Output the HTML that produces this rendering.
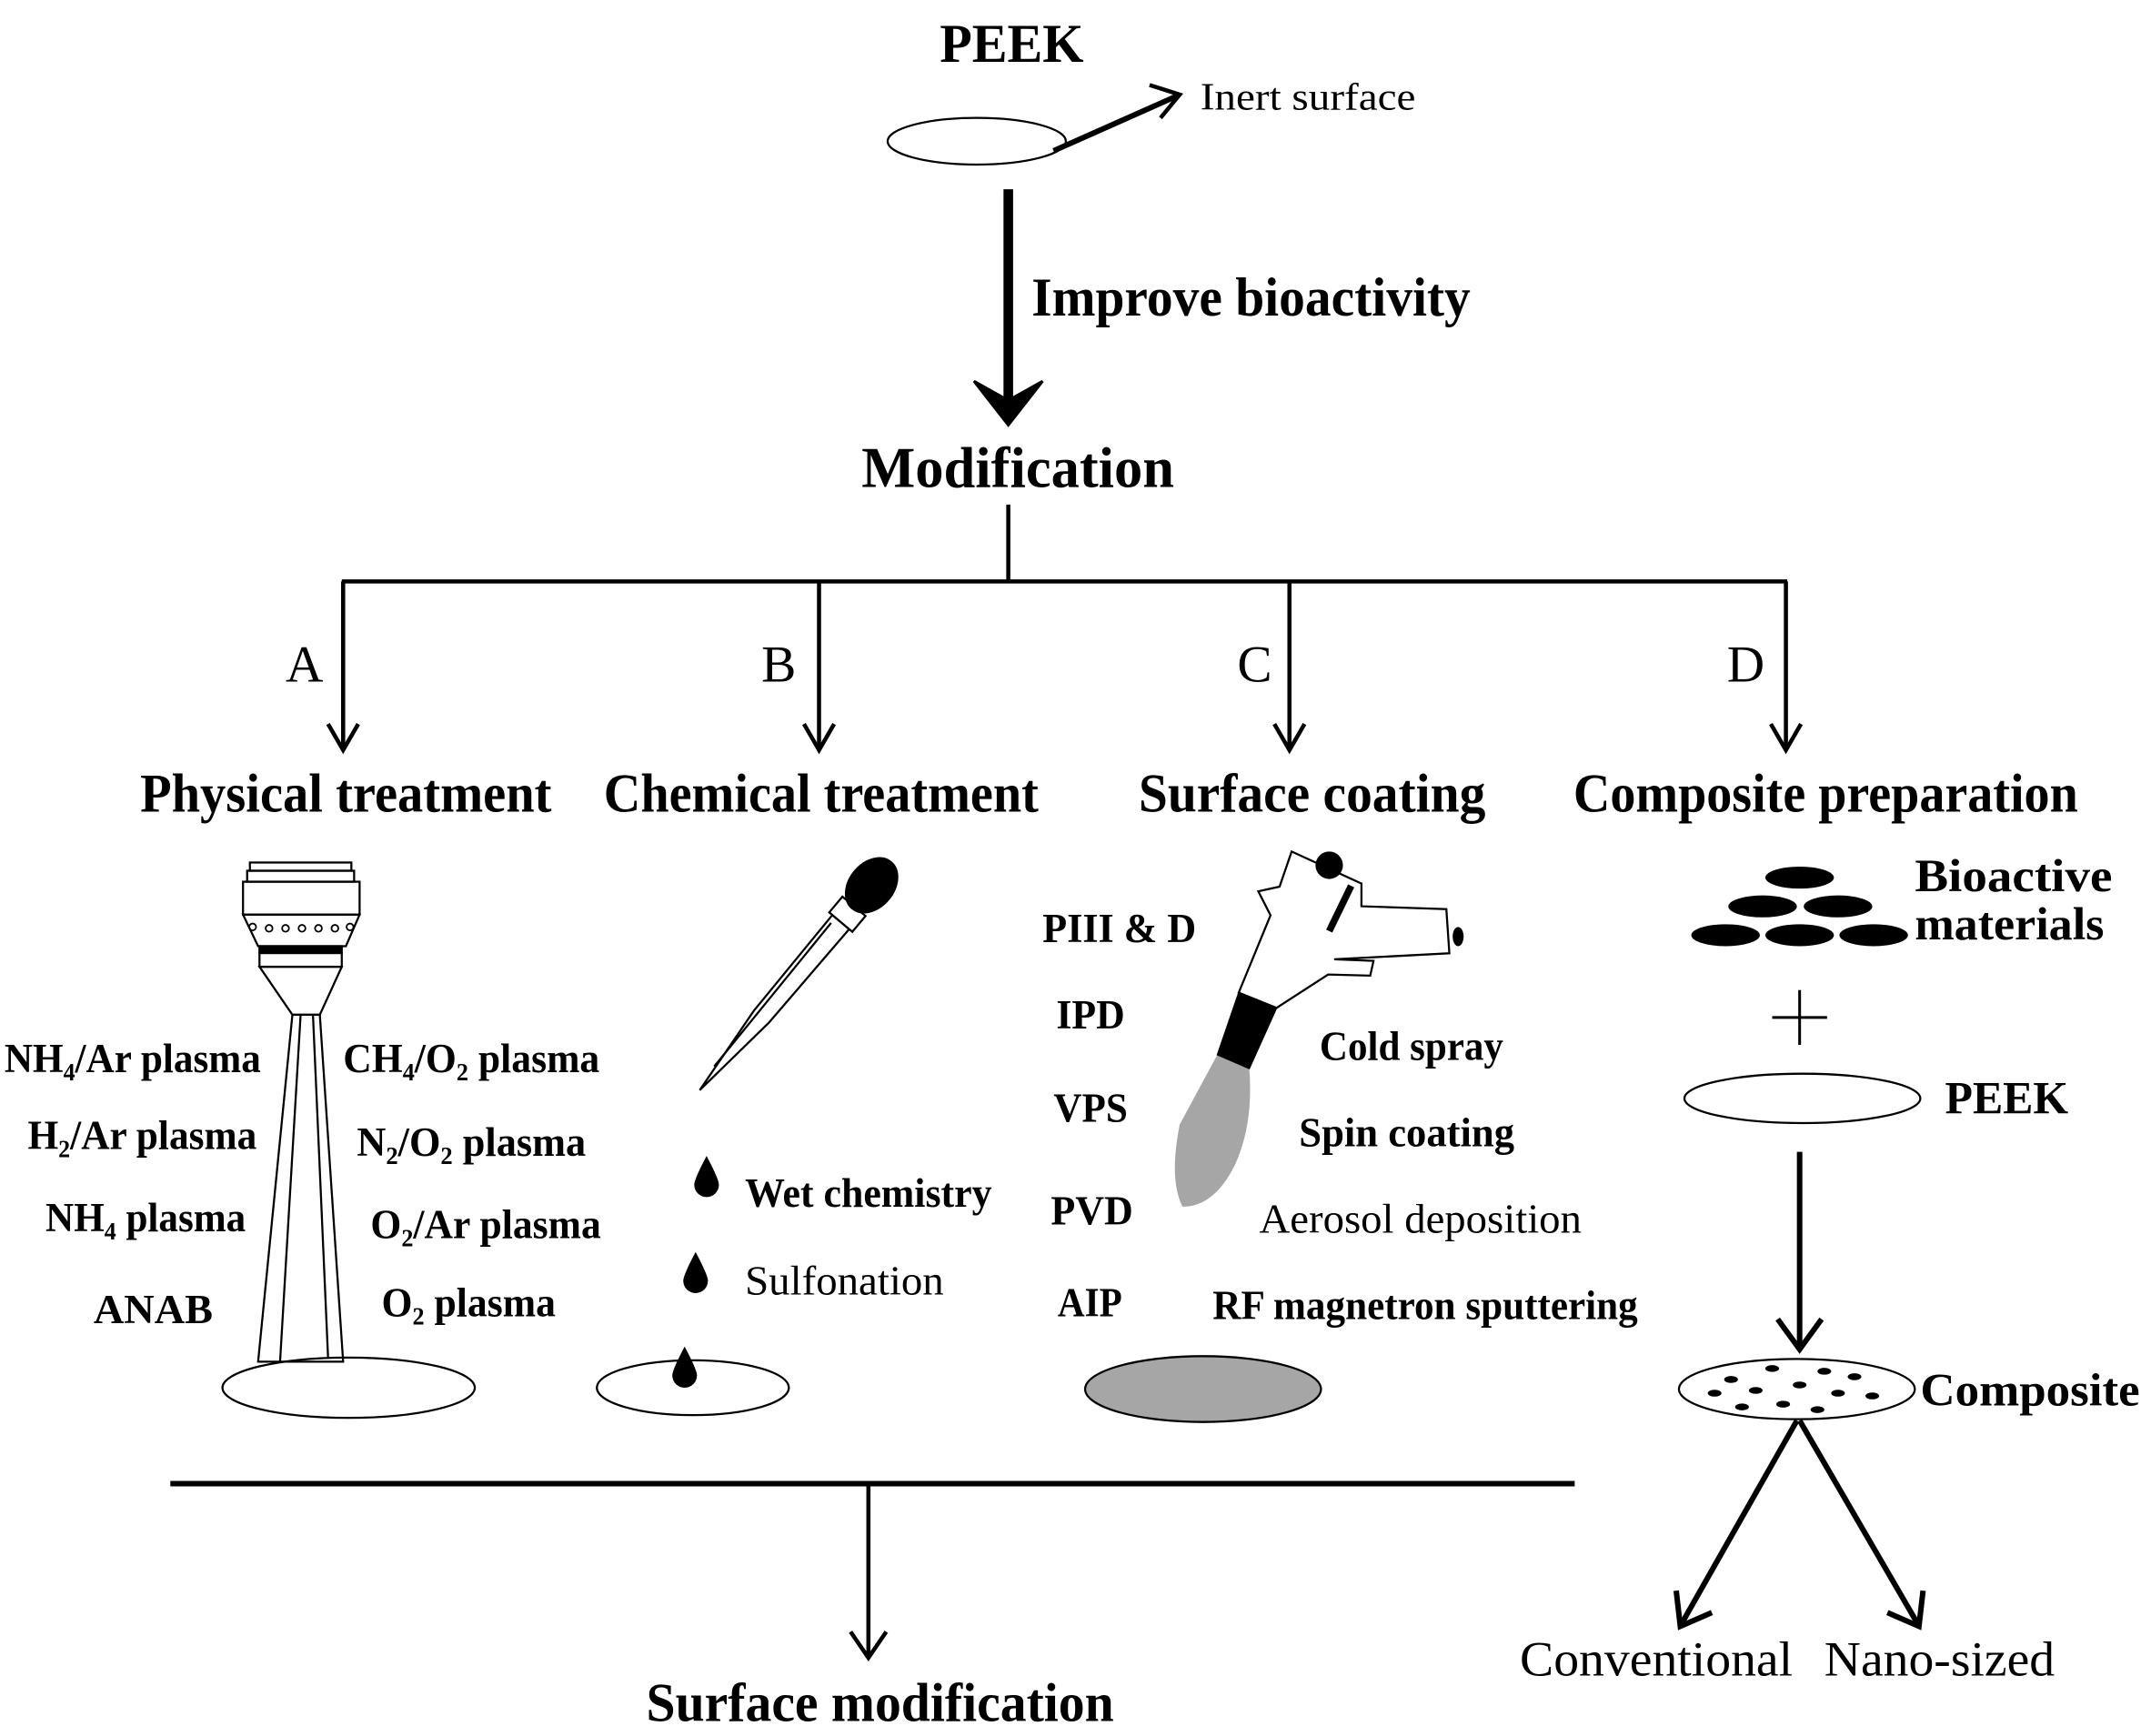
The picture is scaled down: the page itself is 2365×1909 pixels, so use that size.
<!DOCTYPE html>
<html><head><meta charset="utf-8"><style>
html,body{margin:0;padding:0;background:#fff;}
svg{display:block;}
text{font-family:"Liberation Serif",serif;fill:#000;}
.b{font-weight:bold;}
</style></head><body>
<svg width="2365" height="1909" viewBox="0 0 1568 1266" xmlns="http://www.w3.org/2000/svg">
<defs>
<marker id="v" markerWidth="10" markerHeight="10" refX="5" refY="9" orient="auto" markerUnits="userSpaceOnUse"></marker>
</defs>
<g stroke="#000" fill="none">
<!-- top -->
<ellipse cx="712" cy="103" rx="65" ry="17" stroke-width="1.5"/>
<line x1="768" y1="110" x2="858" y2="70" stroke-width="4"/>
<polyline points="838,62 860,69 846,86" stroke-width="3"/>
<line x1="735" y1="138" x2="735" y2="300" stroke-width="7"/>
<polygon points="710,278 735,310 760,278 735,292" fill="#000" stroke-width="2"/>
<!-- tree -->
<line x1="735" y1="368" x2="735" y2="424" stroke-width="3"/>
<line x1="249" y1="424" x2="1303" y2="424" stroke-width="3"/>
<g stroke-width="3">
<line x1="250" y1="424" x2="250" y2="546"/><polyline points="239,528 250,547 261,528"/>
<line x1="597" y1="424" x2="597" y2="546"/><polyline points="586,528 597,547 608,528"/>
<line x1="940" y1="424" x2="940" y2="546"/><polyline points="929,528 940,547 951,528"/>
<line x1="1302" y1="424" x2="1302" y2="546"/><polyline points="1291,528 1302,547 1313,528"/>
</g>
<!-- nozzle -->
<g stroke-width="1.5">
<rect x="182" y="629" width="74" height="6"/>
<rect x="180" y="635" width="78" height="8"/>
<rect x="177" y="643" width="85" height="24"/>
<polygon points="177,667 262,667 252,690 188,690"/>
<rect x="189" y="690" width="60" height="5" fill="#000"/>
<rect x="189" y="695" width="60" height="10"/>
<polygon points="189,705 249,705 233,740 213,740"/>
<polygon points="213,740 233,740 250,993 188,993"/>
<line x1="219" y1="740" x2="204" y2="993"/>
<line x1="228" y1="740" x2="239" y2="990"/>
</g>
<g stroke-width="1.2">
<circle cx="184" cy="676" r="2.5"/><circle cx="196" cy="677" r="2.5"/><circle cx="208" cy="677" r="2.5"/><circle cx="220" cy="677" r="2.5"/><circle cx="232" cy="677" r="2.5"/><circle cx="244" cy="677" r="2.5"/><circle cx="255" cy="676" r="2.5"/>
</g>
<ellipse cx="254" cy="1012" rx="92" ry="22" stroke-width="1.5"/>
<!-- pipette -->
<g transform="translate(510,795) rotate(40)" stroke-width="1.5">
<polygon points="0,0 -7,-70 -8,-160 8,-160 7,-70" fill="#fff"/>
<line x1="-3" y1="-20" x2="-5" y2="-155"/>
<rect x="-11" y="-175" width="22" height="15" fill="#fff"/>
<ellipse cx="0" cy="-195" rx="16" ry="22" fill="#000"/>
</g>
<g fill="#000" stroke="none">
<path d="M515,843 Q524,860 524,864 A9,9 0 1 1 506,864 Q506,860 515,843Z"/>
<path d="M507,913 Q516,930 516,934 A9,9 0 1 1 498,934 Q498,930 507,913Z"/>
<path d="M499,982 Q508,999 508,1003 A9,9 0 1 1 490,1003 Q490,999 499,982Z"/>
</g>
<ellipse cx="505" cy="1012" rx="70" ry="20" stroke-width="1.5"/>
<!-- gun -->
<path d="M887.5,769 L910.7,779 Q914,820 900,850 Q885,880 862,880 Q852,860 860,820 Z" fill="#a6a6a6" stroke="none"/>
<polygon points="903,724 930.6,735 910.7,779.2 887.5,769.2" fill="#000" stroke-width="1"/>
<polygon points="941.6,621 992.5,644.3 992.5,660.9 1054.4,663 1056.6,695.2 972.6,699.6 1001.3,700.7 998.9,711.5 968.2,710.7 930.6,735 903,723.9 926.2,667.5 917.3,650 932.8,646.6" fill="#fff" stroke-width="1.5"/>
<circle cx="969" cy="631" r="10" fill="#000" stroke="none"/>
<line x1="985" y1="646" x2="969" y2="679" stroke-width="5"/>
<ellipse cx="1063" cy="683" rx="4" ry="7" fill="#000" stroke="none"/>
<ellipse cx="877" cy="1013" rx="86" ry="24" fill="#a6a6a6" stroke-width="1.5"/>
<!-- D -->
<g fill="#000" stroke="none">
<ellipse cx="1312" cy="640" rx="25" ry="8"/>
<ellipse cx="1285" cy="661" rx="25" ry="8"/><ellipse cx="1340" cy="661" rx="25" ry="8"/>
<ellipse cx="1258" cy="682" rx="25" ry="8"/><ellipse cx="1312" cy="682" rx="25" ry="8"/><ellipse cx="1366" cy="682" rx="25" ry="8"/>
</g>
<line x1="1312" y1="722" x2="1312" y2="762" stroke-width="2"/>
<line x1="1292" y1="742" x2="1332" y2="742" stroke-width="2"/>
<ellipse cx="1314" cy="801" rx="86" ry="18" stroke-width="1.5"/>
<line x1="1312" y1="840" x2="1312" y2="982" stroke-width="4"/>
<polyline points="1296,962 1312,984 1328,962" stroke-width="4"/>
<ellipse cx="1310" cy="1013" rx="86" ry="22" stroke-width="1.5"/>
<g fill="#000" stroke="none">
<ellipse cx="1262" cy="1006" rx="5" ry="2.5"/><ellipse cx="1292" cy="998" rx="5" ry="2.5"/><ellipse cx="1330" cy="1000" rx="5" ry="2.5"/><ellipse cx="1352" cy="1004" rx="5" ry="2.5"/>
<ellipse cx="1250" cy="1016" rx="5" ry="2.5"/><ellipse cx="1280" cy="1014" rx="5" ry="2.5"/><ellipse cx="1312" cy="1010" rx="5" ry="2.5"/><ellipse cx="1340" cy="1016" rx="5" ry="2.5"/><ellipse cx="1365" cy="1018" rx="5" ry="2.5"/>
<ellipse cx="1270" cy="1026" rx="5" ry="2.5"/><ellipse cx="1300" cy="1024" rx="5" ry="2.5"/><ellipse cx="1325" cy="1028" rx="5" ry="2.5"/>
</g>
<line x1="1310" y1="1036" x2="1226" y2="1184" stroke-width="4"/>
<polyline points="1222,1160 1225,1186 1248,1176" stroke-width="4"/>
<line x1="1312" y1="1036" x2="1398" y2="1184" stroke-width="4"/>
<polyline points="1376,1176 1399,1186 1402,1160" stroke-width="4"/>
<!-- bottom -->
<line x1="124" y1="1082" x2="1148" y2="1082" stroke-width="4"/>
<line x1="633" y1="1082" x2="633" y2="1208" stroke-width="3"/>
<polyline points="620,1190 633,1209 646,1190" stroke-width="3"/>
</g>
<g class="b">
<text x="685" y="45" font-size="40" textLength="105" lengthAdjust="spacingAndGlyphs">PEEK</text>
<text x="752" y="230" font-size="40" textLength="320" lengthAdjust="spacingAndGlyphs">Improve bioactivity</text>
<text x="628" y="355" font-size="42" textLength="228" lengthAdjust="spacingAndGlyphs">Modification</text>
<text x="102" y="592" font-size="40" textLength="300" lengthAdjust="spacingAndGlyphs">Physical treatment</text>
<text x="440" y="592" font-size="40" textLength="317" lengthAdjust="spacingAndGlyphs">Chemical treatment</text>
<text x="830" y="592" font-size="40" textLength="253" lengthAdjust="spacingAndGlyphs">Surface coating</text>
<text x="1147" y="592" font-size="40" textLength="368" lengthAdjust="spacingAndGlyphs">Composite preparation</text>
<text x="471" y="1255" font-size="40" textLength="341" lengthAdjust="spacingAndGlyphs">Surface modification</text>
<g font-size="30">
<text x="3" y="782" textLength="187" lengthAdjust="spacingAndGlyphs">NH<tspan font-size="18" dy="6">4</tspan><tspan dy="-6">/Ar plasma</tspan></text>
<text x="20" y="838" textLength="167" lengthAdjust="spacingAndGlyphs">H<tspan font-size="18" dy="6">2</tspan><tspan dy="-6">/Ar plasma</tspan></text>
<text x="33" y="898" textLength="146" lengthAdjust="spacingAndGlyphs">NH<tspan font-size="18" dy="6">4</tspan><tspan dy="-6"> plasma</tspan></text>
<text x="68" y="965" textLength="87" lengthAdjust="spacingAndGlyphs">ANAB</text>
<text x="250" y="782" textLength="187" lengthAdjust="spacingAndGlyphs">CH<tspan font-size="18" dy="6">4</tspan><tspan dy="-6">/O</tspan><tspan font-size="18" dy="6">2</tspan><tspan dy="-6"> plasma</tspan></text>
<text x="260" y="843" textLength="167" lengthAdjust="spacingAndGlyphs">N<tspan font-size="18" dy="6">2</tspan><tspan dy="-6">/O</tspan><tspan font-size="18" dy="6">2</tspan><tspan dy="-6"> plasma</tspan></text>
<text x="270" y="903" textLength="168" lengthAdjust="spacingAndGlyphs">O<tspan font-size="18" dy="6">2</tspan><tspan dy="-6">/Ar plasma</tspan></text>
<text x="278" y="960" textLength="127" lengthAdjust="spacingAndGlyphs">O<tspan font-size="18" dy="6">2</tspan><tspan dy="-6"> plasma</tspan></text>
<text x="543" y="880" textLength="180" lengthAdjust="spacingAndGlyphs">Wet chemistry</text>
<text x="760" y="687" textLength="112" lengthAdjust="spacingAndGlyphs">PIII &amp; D</text>
<text x="770" y="750" textLength="50" lengthAdjust="spacingAndGlyphs">IPD</text>
<text x="768" y="818" textLength="54" lengthAdjust="spacingAndGlyphs">VPS</text>
<text x="766" y="893" textLength="60" lengthAdjust="spacingAndGlyphs">PVD</text>
<text x="771" y="960" textLength="47" lengthAdjust="spacingAndGlyphs">AIP</text>
<text x="962" y="773" textLength="134" lengthAdjust="spacingAndGlyphs">Cold spray</text>
<text x="947" y="836" textLength="157" lengthAdjust="spacingAndGlyphs">Spin coating</text>
<text x="884" y="962" textLength="310" lengthAdjust="spacingAndGlyphs">RF magnetron sputtering</text>
</g>
<text x="1396" y="650" font-size="34" textLength="144" lengthAdjust="spacingAndGlyphs">Bioactive</text>
<text x="1396" y="685" font-size="34" textLength="138" lengthAdjust="spacingAndGlyphs">materials</text>
<text x="1418" y="812" font-size="34" textLength="90" lengthAdjust="spacingAndGlyphs">PEEK</text>
<text x="1400" y="1025" font-size="34" textLength="160" lengthAdjust="spacingAndGlyphs">Composite</text>
</g>
<text x="875" y="80" font-size="28" textLength="157" lengthAdjust="spacingAndGlyphs">Inert surface</text>
<text x="208" y="497" font-size="38">A</text>
<text x="555" y="497" font-size="38">B</text>
<text x="902" y="497" font-size="38">C</text>
<text x="1259" y="497" font-size="38">D</text>
<text x="543" y="944" font-size="30" textLength="145" lengthAdjust="spacingAndGlyphs">Sulfonation</text>
<text x="918" y="899" font-size="30" textLength="235" lengthAdjust="spacingAndGlyphs">Aerosol deposition</text>
<text x="1108" y="1222" font-size="36" textLength="199" lengthAdjust="spacingAndGlyphs">Conventional</text>
<text x="1330" y="1222" font-size="36" textLength="168" lengthAdjust="spacingAndGlyphs">Nano-sized</text>
</svg>
</body></html>
